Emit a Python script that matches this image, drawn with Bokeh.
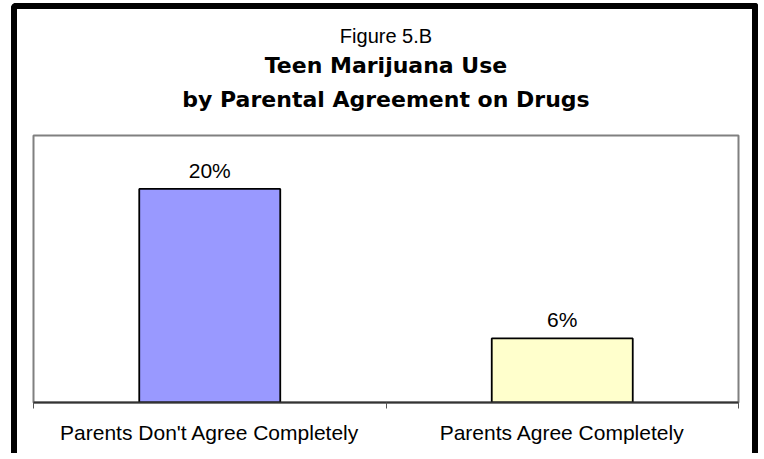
from bokeh.plotting import figure
from bokeh.models import (Range1d, FixedTicker, Title, LabelSet, ColumnDataSource, LinearAxis)
from bokeh.core.properties import value
from bokeh.embed import file_html
from bokeh.resources import INLINE

# ---- data ----
categories = ["Parents Don't Agree Completely", "Parents Agree Completely"]
values = [20, 6]
value_labels = ["20%", "6%"]
bar_colors = ["#9999FF", "#FFFFCC"]
title_lines = ["Figure 5.B", "Teen Marijuana Use", "by Parental Agreement on Drugs"]
y_max = 25

x_pos = [i + 0.5 for i in range(len(categories))]
src = ColumnDataSource(dict(x=x_pos, top=values, label=value_labels, color=bar_colors))

p = figure(width=747, height=450, output_backend="svg", toolbar_location=None,
           x_range=Range1d(0, len(categories)), y_range=Range1d(0, y_max),
           x_axis_type=None, y_axis_type=None,
           min_border_left=16, min_border_right=26, min_border_top=126, min_border_bottom=57)
p.margin = (3, 0, 0, 11)
p.styles = {"border-top": "6px solid black", "border-left": "6px solid black",
            "border-right": "6px solid black", "border-bottom": "none",
            "border-top-left-radius": "5px", "border-top-right-radius": "3px",
            "box-sizing": "border-box"}
p.grid.visible = False
p.background_fill_color = "white"
p.border_fill_color = "white"
p.outline_line_color = "#808080"
p.outline_line_width = 2

p.vbar(x="x", top="top", width=0.4, bottom=0, source=src,
       fill_color="color", line_color="black", line_width=1.8)

labels = LabelSet(x="x", y="top", text="label", source=src, y_offset=11,
                  text_align="center", text_baseline="alphabetic",
                  text_font=value("Liberation Sans"), text_font_size="21px", text_color="black")
p.add_layout(labels)

xaxis = LinearAxis(ticker=FixedTicker(ticks=x_pos, minor_ticks=list(range(len(categories) + 1))))
xaxis.major_label_overrides = {xv: c for xv, c in zip(x_pos, categories)}
xaxis.major_tick_line_color = None
xaxis.major_tick_out = 6
xaxis.major_tick_in = 0
xaxis.minor_tick_out = 6
xaxis.minor_tick_in = 0
xaxis.minor_tick_line_color = "#555555"
xaxis.minor_tick_line_width = 1
xaxis.axis_line_color = "#333333"
xaxis.axis_line_width = 2
xaxis.major_label_standoff = 12
xaxis.major_label_text_font = "Liberation Sans"
xaxis.major_label_text_font_size = "21px"
xaxis.major_label_text_color = "black"
p.add_layout(xaxis, "below")

# last title line carries an empty second line that keeps it clear of the plot area
t3 = Title(text=title_lines[2] + "\n", align="center", text_font="DejaVu Sans",
           text_font_style="bold", text_font_size="22px", text_line_height=0.78,
           standoff=8, text_color="black")
t2 = Title(text=title_lines[1], align="center", text_font="DejaVu Sans",
           text_font_style="bold", text_font_size="22px", standoff=5, text_color="black")
t1 = Title(text=title_lines[0], align="center", text_font="Liberation Sans",
           text_font_style="normal", text_font_size="20px", standoff=4, text_color="black")
p.add_layout(t3, "above")
p.add_layout(t2, "above")
p.add_layout(t1, "above")

open("out.html", "w").write(file_html(p, INLINE))
